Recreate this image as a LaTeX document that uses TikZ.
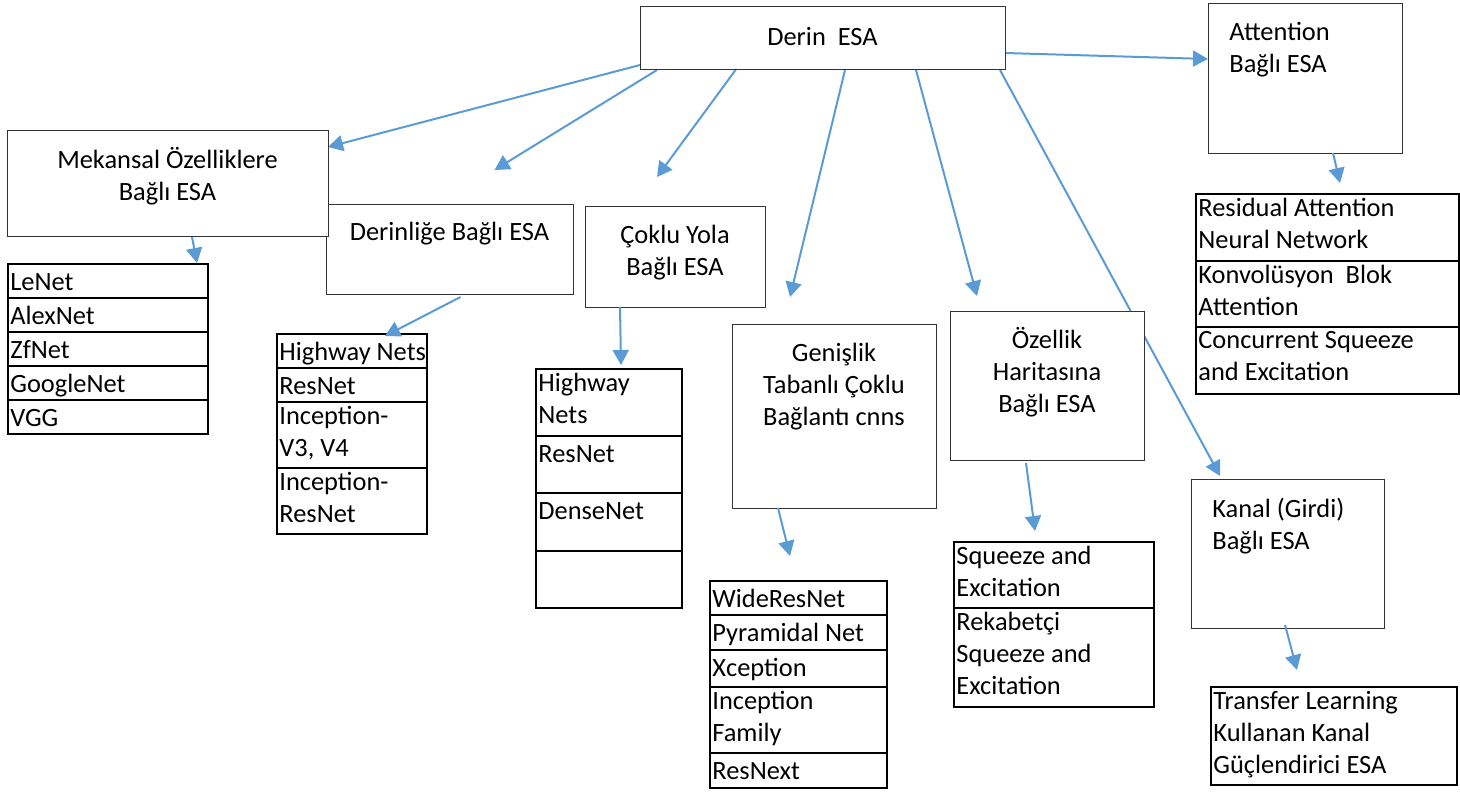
\documentclass[tikz,border=0pt]{standalone}
\usepackage{fontspec}
\setmainfont{Carlito}
\usetikzlibrary{arrows.meta}
\usetikzlibrary{calc}
\usetikzlibrary{positioning}
\usetikzlibrary{backgrounds}
\definecolor{linkblue}{HTML}{5B9BD5}

\begin{document}
\begin{tikzpicture}[x=0.5pt,y=-0.5pt,
    box/.style={draw=black!80,line width=0.5pt,fill=white,anchor=north west,inner sep=0pt,outer sep=0pt},
    cell/.style={draw,line width=1pt,anchor=north west,inner sep=0pt,outer sep=0pt},
    boxtext/.style={align=center,anchor=north,inner sep=0pt,font=\fontsize{13.2}{16}\selectfont,execute at begin node=\strut},
    celltext/.style={align=left,anchor=north west,inner xsep=1pt,inner ysep=2pt,font=\fontsize{13.2}{16}\selectfont,execute at begin node=\strut},
    link/.style={color=linkblue,line width=1pt,->,>={Triangle[length=7.5pt,width=8pt]}}]

  \useasboundingbox (0,0) rectangle (1460,792);

  % top node
  \node [box,minimum width=182.5pt,minimum height=31.5pt] (root) at (640,7) {};
  \node [boxtext,below=7.8pt of root.north] (rootlab) {Derin\ \ ESA};

  % kinds of ESA
  \node [box,minimum width=123.5pt,minimum height=45pt] (der) at (326,204) {};
  \node [boxtext,below=7pt of der.north] (derlab) {Derinliğe Bağlı ESA};

  \node [box,minimum width=160.5pt,minimum height=53pt] (mek) at (7,130) {};
  \node [boxtext,below=8.3pt of mek.north] (meklab) {Mekansal Özelliklere\\Bağlı ESA};

  \node [box,minimum width=90pt,minimum height=50.5pt] (cok) at (585,206) {};
  \node [boxtext,below=9.3pt of cok.north] (coklab) {Çoklu Yola\\Bağlı ESA};

  \node [box,minimum width=102pt,minimum height=92pt] (gen) at (732,324) {};
  \node [boxtext,below=9.3pt of gen.north] (genlab) {Genişlik\\Tabanlı Çoklu\\Bağlantı cnns};

  \node [box,minimum width=97pt,minimum height=74.5pt] (oze) at (950,311) {};
  \node [boxtext,below=7.8pt of oze.north] (ozelab) {Özellik\\Haritasına\\Bağlı ESA};

  \node [box,minimum width=97pt,minimum height=74.5pt] (att) at (1208,4) {};
  \node [boxtext,align=left,below right=8.8pt and 10.5pt of att.north west] (attlab) {Attention\\Bağlı ESA};

  \node [box,minimum width=96.5pt,minimum height=74.5pt] (kan) at (1191,479) {};
  \node [boxtext,align=left,below right=9.3pt and 10.5pt of kan.north west] (kanlab) {Kanal (Girdi)\\Bağlı ESA};

  % mekansal list
  \node [cell,minimum width=100pt,minimum height=17pt] (le1) at (8,264) {};
  \node [cell,minimum width=100pt,minimum height=17pt,below=0pt of le1] (le2) {};
  \node [cell,minimum width=100pt,minimum height=17pt,below=0pt of le2] (le3) {};
  \node [cell,minimum width=100pt,minimum height=17pt,below=0pt of le3] (le4) {};
  \node [cell,minimum width=100pt,minimum height=17pt,below=0pt of le4] (le5) {};
  \node [celltext] (le1t) at (le1.north west) {LeNet};
  \node [celltext] (le2t) at (le2.north west) {AlexNet};
  \node [celltext] (le3t) at (le3.north west) {ZfNet};
  \node [celltext] (le4t) at (le4.north west) {GoogleNet};
  \node [celltext] (le5t) at (le5.north west) {VGG};

  % derinlik list
  \node [cell,minimum width=75pt,minimum height=17pt] (dl1) at (277,334) {};
  \node [cell,minimum width=75pt,minimum height=17pt,below=0pt of dl1] (dl2) {};
  \node [cell,minimum width=75pt,minimum height=33pt,below=0pt of dl2] (dl3) {};
  \node [cell,minimum width=75pt,minimum height=33pt,below=0pt of dl3] (dl4) {};
  \node [celltext] (dl1t) at (dl1.north west) {Highway Nets};
  \node [celltext] (dl2t) at (dl2.north west) {ResNet};
  \node [celltext] (dl3t) at (dl3.north west) {Inception-\\V3, V4};
  \node [celltext] (dl4t) at (dl4.north west) {Inception-\\ResNet};

  % coklu yol list
  \node [cell,minimum width=73pt,minimum height=33.5pt] (cl1) at (536,369) {};
  \node [cell,minimum width=73pt,minimum height=28.5pt,below=0pt of cl1] (cl2) {};
  \node [cell,minimum width=73pt,minimum height=29pt,below=0pt of cl2] (cl3) {};
  \node [cell,minimum width=73pt,minimum height=28.5pt,below=0pt of cl3] (cl4) {};
  \node [celltext] (cl1t) at (cl1.north west) {Highway\\Nets};
  \node [celltext] (cl2t) at (cl2.north west) {ResNet};
  \node [celltext] (cl3t) at (cl3.north west) {DenseNet};

  % genislik list
  \node [cell,minimum width=88.5pt,minimum height=17pt] (gl1) at (710,581) {};
  \node [cell,minimum width=88.5pt,minimum height=17.5pt,below=0pt of gl1] (gl2) {};
  \node [cell,minimum width=88.5pt,minimum height=18.5pt,below=0pt of gl2] (gl3) {};
  \node [cell,minimum width=88.5pt,minimum height=33pt,below=0pt of gl3] (gl4) {};
  \node [cell,minimum width=88.5pt,minimum height=17.5pt,below=0pt of gl4] (gl5) {};
  \node [celltext] (gl1t) at (gl1.north west) {WideResNet};
  \node [celltext] (gl2t) at (gl2.north west) {Pyramidal Net};
  \node [celltext] (gl3t) at (gl3.north west) {Xception};
  \node [celltext] (gl4t) at (gl4.north west) {Inception\\Family};
  \node [celltext] (gl5t) at (gl5.north west) {ResNext};

  % ozellik haritasi list
  \node [cell,minimum width=100pt,minimum height=33pt] (ol1) at (954,542) {};
  \node [cell,minimum width=100pt,minimum height=49.5pt,below=0pt of ol1] (ol2) {};
  \node [celltext] (ol1t) at (ol1.north west) {Squeeze and\\Excitation};
  \node [celltext] (ol2t) at (ol2.north west) {Rekabetçi\\Squeeze and\\Excitation};

  % attention list
  \node [cell,minimum width=131.5pt,minimum height=33.5pt] (al1) at (1196,194) {};
  \node [cell,minimum width=131.5pt,minimum height=33pt,below=0pt of al1] (al2) {};
  \node [cell,minimum width=131.5pt,minimum height=33.5pt,below=0pt of al2] (al3) {};
  \node [celltext] (al1t) at (al1.north west) {Residual Attention\\Neural Network};
  \node [celltext] (al2t) at (al2.north west) {Konvolüsyon\ \ Blok\\Attention};
  \node [celltext] (al3t) at (al3.north west) {Concurrent Squeeze\\and Excitation};

  % kanal list
  \node [cell,minimum width=123pt,minimum height=49pt] (tr) at (1211,687) {};
  \node [celltext] (trt) at (tr.north west) {Transfer Learning\\Kullanan Kanal\\Güçlendirici ESA};

  \begin{scope}[on background layer]
  \path [link]
    ($(root.south west)+(0,-5)$) edge ($(mek.north east)+(0,17)$)
    ($(root.south west)+(17,0)$) edge ($(der.north)+(45,-34)$)
    ($(root.south west)+(97,-2)$) edge ($(cok.north)+(-18,-29)$)
    ($(root.south west)+(205,0)$) edge ($(gen.north)+(-44,-27)$)
    ($(root.south west)+(276,0)$) edge ($(oze.north)+(-70,-15)$)
    ($(root.south east)+(-5,0)$) edge ($(kan.north west)+(29,-3)$)
    ($(root.south east)+(0,-17)$) edge ($(att.north west)+(0,55)$);
  \end{scope}

  \path [link]
    ($(mek.south west)+(185,1)$) edge ($(le1.north west)+(189,-1)$)
    ($(der.south)+(11,3)$) edge ($(dl1.north west)+(108,2)$)
    ($(cok.south west)+(35,0)$) edge ($(cl1.north west)+(85,-4)$)
    ($(gen.south west)+(46,0)$) edge ($(gl1.north west)+(80,-25)$)
    ($(oze.south west)+(76,3)$) edge ($(ol1.north west)+(81,-11)$)
    ($(att.south west)+(125,0)$) edge ($(al1.north west)+(144,-11)$)
    ($(kan.south west)+(94,-3)$) edge ($(tr.north west)+(86,-17)$);

\end{tikzpicture}
\end{document}
